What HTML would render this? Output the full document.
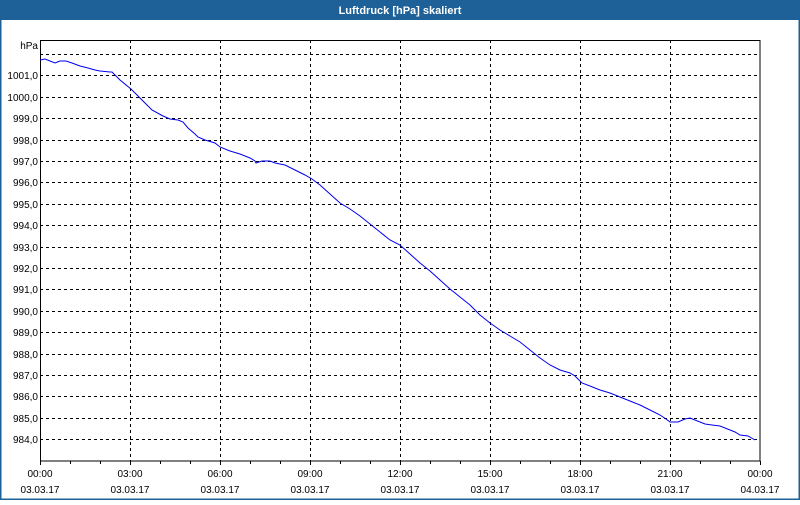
<!DOCTYPE html>
<html><head><meta charset="utf-8"><style>
html,body{margin:0;padding:0;}
body{width:800px;height:500px;overflow:hidden;background:#fff;}
</style></head><body>
<svg width="800" height="500" xmlns="http://www.w3.org/2000/svg" font-family="Liberation Sans, sans-serif" font-size="10">
<rect x="0" y="0" width="800" height="500" fill="#fff"/>
<rect x="0" y="0" width="800" height="20" fill="#1e6198"/>
<rect x="0.5" y="0.5" width="799" height="499" fill="none" stroke="#1e6198" stroke-width="2"/>
<text x="400" y="14" fill="#fff" font-weight="bold" text-anchor="middle" font-size="11">Luftdruck [hPa] skaliert</text>
<g stroke="#000" stroke-dasharray="3,3" stroke-width="1">
<line x1="40" y1="54.5" x2="760" y2="54.5"/>
<line x1="40" y1="75.5" x2="760" y2="75.5"/>
<line x1="40" y1="97.5" x2="760" y2="97.5"/>
<line x1="40" y1="118.5" x2="760" y2="118.5"/>
<line x1="40" y1="140.5" x2="760" y2="140.5"/>
<line x1="40" y1="161.5" x2="760" y2="161.5"/>
<line x1="40" y1="182.5" x2="760" y2="182.5"/>
<line x1="40" y1="204.5" x2="760" y2="204.5"/>
<line x1="40" y1="225.5" x2="760" y2="225.5"/>
<line x1="40" y1="247.5" x2="760" y2="247.5"/>
<line x1="40" y1="268.5" x2="760" y2="268.5"/>
<line x1="40" y1="289.5" x2="760" y2="289.5"/>
<line x1="40" y1="311.5" x2="760" y2="311.5"/>
<line x1="40" y1="332.5" x2="760" y2="332.5"/>
<line x1="40" y1="354.5" x2="760" y2="354.5"/>
<line x1="40" y1="375.5" x2="760" y2="375.5"/>
<line x1="40" y1="396.5" x2="760" y2="396.5"/>
<line x1="40" y1="418.5" x2="760" y2="418.5"/>
<line x1="40" y1="439.5" x2="760" y2="439.5"/>
<line x1="130.5" y1="40" x2="130.5" y2="461"/>
<line x1="220.5" y1="40" x2="220.5" y2="461"/>
<line x1="310.5" y1="40" x2="310.5" y2="461"/>
<line x1="400.5" y1="40" x2="400.5" y2="461"/>
<line x1="490.5" y1="40" x2="490.5" y2="461"/>
<line x1="580.5" y1="40" x2="580.5" y2="461"/>
<line x1="670.5" y1="40" x2="670.5" y2="461"/>
</g>
<rect x="40.5" y="40.5" width="719.5" height="420.5" fill="none" stroke="#000"/>
<g stroke="#000">
<path d="M40.5 461v4M70.5 461v3M100.5 461v3M130.5 461v4M160.5 461v3M190.5 461v3M220.5 461v4M250.5 461v3M280.5 461v3M310.5 461v4M340.5 461v3M370.5 461v3M400.5 461v4M430.5 461v3M460.5 461v3M490.5 461v4M520.5 461v3M550.5 461v3M580.5 461v4M610.5 461v3M640.5 461v3M670.5 461v4M700.5 461v3M730.5 461v3M760.5 461v4"/>
</g>
<polyline fill="none" stroke="#0000ee" stroke-width="1" points="40,60 45,59 50,61 55,63 60,61 66,61 72,63 80,66 88,68 95,70 100,71 110,72 112,72 120,80 131,89 140,98 152,110 163,116 170,119 178,120 183,122 188,128 195,134 198,137 205,140 215,143 220,147 230,151 240,154 245,156 250,158 255,161 256,163 262,161 270,161 275,163 285,165 295,170 305,175 312,179 320,185 330,194 340,203 350,209 360,216 370,224 380,232 390,240 400,245 410,254 420,263 430,271 440,280 450,289 460,297 470,305 480,315 490,323 500,330 510,336 520,342 530,350 540,358 550,365 560,370 570,373 575,376 582,383 590,386 600,390 610,393 620,397 630,401 640,405 650,410 660,415 666,419 670,422 678,422 685,419 690,418 700,422 705,424 712,425 720,426 730,430 735,432 740,435 748,436 755,440"/>
<g fill="#000" text-anchor="end" font-size="10">
<text x="38" y="49" text-anchor="end">hPa</text>
<text x="38" y="79">1001,0</text>
<text x="38" y="101">1000,0</text>
<text x="38" y="122">999,0</text>
<text x="38" y="144">998,0</text>
<text x="38" y="165">997,0</text>
<text x="38" y="186">996,0</text>
<text x="38" y="208">995,0</text>
<text x="38" y="229">994,0</text>
<text x="38" y="251">993,0</text>
<text x="38" y="272">992,0</text>
<text x="38" y="293">991,0</text>
<text x="38" y="315">990,0</text>
<text x="38" y="336">989,0</text>
<text x="38" y="358">988,0</text>
<text x="38" y="379">987,0</text>
<text x="38" y="400">986,0</text>
<text x="38" y="422">985,0</text>
<text x="38" y="443">984,0</text>
</g>
<g fill="#000" text-anchor="middle" font-size="10">
<text x="40" y="477">00:00</text><text x="40" y="493">03.03.17</text>
<text x="130" y="477">03:00</text><text x="130" y="493">03.03.17</text>
<text x="220" y="477">06:00</text><text x="220" y="493">03.03.17</text>
<text x="310" y="477">09:00</text><text x="310" y="493">03.03.17</text>
<text x="400" y="477">12:00</text><text x="400" y="493">03.03.17</text>
<text x="490" y="477">15:00</text><text x="490" y="493">03.03.17</text>
<text x="580" y="477">18:00</text><text x="580" y="493">03.03.17</text>
<text x="670" y="477">21:00</text><text x="670" y="493">03.03.17</text>
<text x="760" y="477">00:00</text><text x="760" y="493">04.03.17</text>
</g>
</svg>
</body></html>
